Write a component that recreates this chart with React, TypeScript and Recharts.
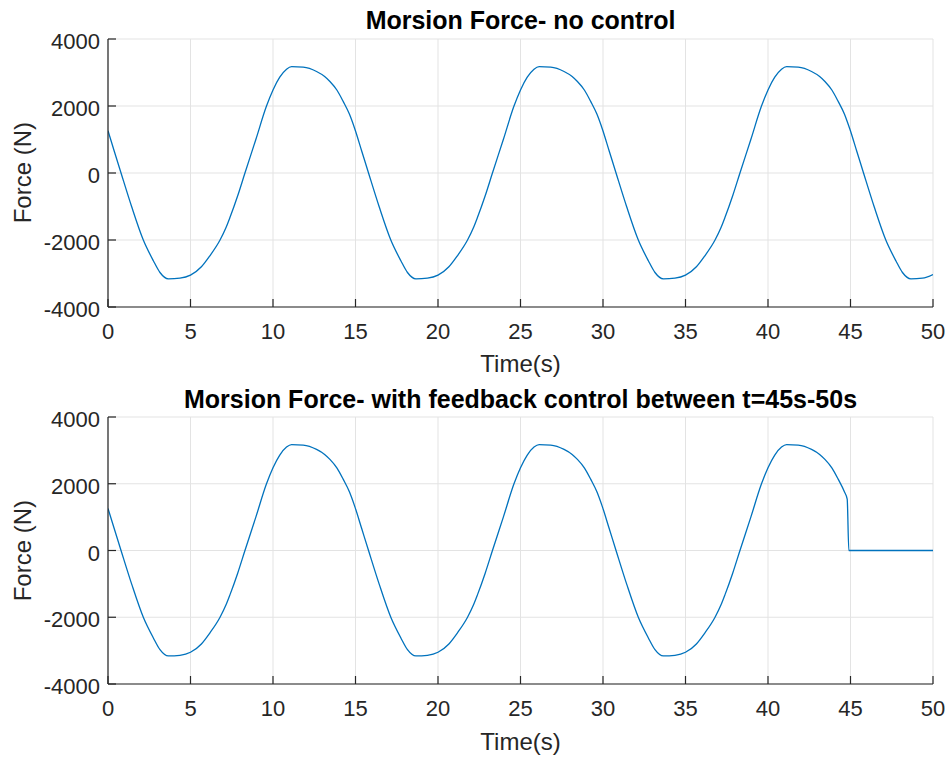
import React from 'react';
import { LineChart, Line, XAxis, YAxis, CartesianGrid } from 'recharts';

// ---- data ----
const timeTop = [
  0, 0.38, 0.79, 1.43, 2.14, 2.75, 3.15, 3.66,
  4.36, 5.0, 5.66, 6.16, 6.79, 7.16, 7.39, 7.86, 8.3, 8.96, 9.6, 10.0, 10.41, 10.82, 11.13,
  11.83, 12.64, 13.13, 13.45, 13.88, 14.26, 14.63, 14.97, 15.38, 15.79, 16.43, 17.14, 17.75, 18.15, 18.66,
  19.36, 20.0, 20.66, 21.16, 21.79, 22.16, 22.39, 22.86, 23.3, 23.96, 24.6, 25.0, 25.41, 25.82, 26.13,
  26.83, 27.64, 28.13, 28.45, 28.88, 29.26, 29.63, 29.97, 30.38, 30.79, 31.43, 32.14, 32.75, 33.15, 33.66,
  34.36, 35.0, 35.66, 36.16, 36.79, 37.16, 37.39, 37.86, 38.3, 38.96, 39.6, 40.0, 40.41, 40.82, 41.13,
  41.83, 42.64, 43.13, 43.45, 43.88, 44.26, 44.63, 44.8, 44.97, 45.38, 45.79, 46.43, 47.14, 47.75, 48.15, 48.66,
  49.36, 50.0,
];
const forceTop = [
  1260, 650, 0, -1000, -2000, -2620, -2970, -3160,
  -3140, -3050, -2800, -2480, -2000, -1620, -1330, -680, 0, 1000, 1990, 2480, 2860, 3100, 3175,
  3160, 3030, 2880, 2730, 2470, 2130, 1760, 1300, 650, 0, -1000, -2000, -2620, -2970, -3160,
  -3140, -3050, -2800, -2480, -2000, -1620, -1330, -680, 0, 1000, 1990, 2480, 2860, 3100, 3175,
  3160, 3030, 2880, 2730, 2470, 2130, 1760, 1300, 650, 0, -1000, -2000, -2620, -2970, -3160,
  -3140, -3050, -2800, -2480, -2000, -1620, -1330, -680, 0, 1000, 1990, 2480, 2860, 3100, 3175,
  3160, 3030, 2880, 2730, 2470, 2130, 1760, 1540, 1300, 650, 0, -1000, -2000, -2620, -2970, -3160,
  -3140, -3030,
];
const timeBottom = [
  0, 0.38, 0.79, 1.43, 2.14, 2.75, 3.15, 3.66,
  4.36, 5.0, 5.66, 6.16, 6.79, 7.16, 7.39, 7.86, 8.3, 8.96, 9.6, 10.0, 10.41, 10.82, 11.13,
  11.83, 12.64, 13.13, 13.45, 13.88, 14.26, 14.63, 14.97, 15.38, 15.79, 16.43, 17.14, 17.75, 18.15, 18.66,
  19.36, 20.0, 20.66, 21.16, 21.79, 22.16, 22.39, 22.86, 23.3, 23.96, 24.6, 25.0, 25.41, 25.82, 26.13,
  26.83, 27.64, 28.13, 28.45, 28.88, 29.26, 29.63, 29.97, 30.38, 30.79, 31.43, 32.14, 32.75, 33.15, 33.66,
  34.36, 35.0, 35.66, 36.16, 36.79, 37.16, 37.39, 37.86, 38.3, 38.96, 39.6, 40.0, 40.41, 40.82, 41.13,
  41.83, 42.64, 43.13, 43.45, 43.88, 44.26, 44.63, 44.8, 44.9, 50.0,
];
const forceBottom = [
  1260, 650, 0, -1000, -2000, -2620, -2970, -3160,
  -3140, -3050, -2800, -2480, -2000, -1620, -1330, -680, 0, 1000, 1990, 2480, 2860, 3100, 3175,
  3160, 3030, 2880, 2730, 2470, 2130, 1760, 1300, 650, 0, -1000, -2000, -2620, -2970, -3160,
  -3140, -3050, -2800, -2480, -2000, -1620, -1330, -680, 0, 1000, 1990, 2480, 2860, 3100, 3175,
  3160, 3030, 2880, 2730, 2470, 2130, 1760, 1300, 650, 0, -1000, -2000, -2620, -2970, -3160,
  -3140, -3050, -2800, -2480, -2000, -1620, -1330, -680, 0, 1000, 1990, 2480, 2860, 3100, 3175,
  3160, 3030, 2880, 2730, 2470, 2130, 1760, 1540, 0, 0,
];
const xTicks = [0, 5, 10, 15, 20, 25, 30, 35, 40, 45, 50];
const yTicks = [-4000, -2000, 0, 2000, 4000];
const titles = [
  'Morsion Force- no control',
  'Morsion Force- with feedback control between t=45s-50s',
];
const xLabel = 'Time(s)';
const yLabel = 'Force (N)';

// ---- styles ----
const FONT = '"Liberation Sans", Arial, Helvetica, sans-serif';
const AXIS = '#262626';
const GRID = '#e3e3e3';
const LINE = '#0072BD';
const TICK_FS = 22;
const TICK_LEN = 8;

const toRows = (t: number[], f: number[]) => t.map((v, i) => ({ t: v, f: f[i] }));

const BottomTick = (p: any) => (
  <g>
    <line x1={p.x} x2={p.x} y1={p.y} y2={p.y - TICK_LEN} stroke={AXIS} strokeWidth={1.2} />
    <text x={p.x} y={p.y + 32} textAnchor="middle" fontSize={TICK_FS} fontFamily={FONT} fill={AXIS}>
      {p.payload.value}
    </text>
  </g>
);
const TopTick = (p: any) => (
  <line x1={p.x} x2={p.x} y1={p.y} y2={p.y + TICK_LEN} stroke={AXIS} strokeWidth={1.2} />
);
const LeftTick = (p: any) => (
  <g>
    <line x1={p.x} x2={p.x + TICK_LEN} y1={p.y} y2={p.y} stroke={AXIS} strokeWidth={1.2} />
    <text x={p.x - 8} y={p.y + 10} textAnchor="end" fontSize={TICK_FS} fontFamily={FONT} fill={AXIS}>
      {p.payload.value}
    </text>
  </g>
);
const RightTick = (p: any) => (
  <line x1={p.x} x2={p.x - TICK_LEN} y1={p.y} y2={p.y} stroke={AXIS} strokeWidth={1.2} />
);

function Panel(props: { rows: any[]; marginTop: number; xAxisH: number }) {
  const { rows, marginTop, xAxisH } = props;
  return (
    <LineChart width={948} height={379} data={rows}
      margin={{ top: marginTop, right: 15, bottom: 0, left: 0 }}>
      <CartesianGrid stroke={GRID} strokeWidth={1} />
      <XAxis dataKey="t" type="number" domain={[0, 50]} ticks={xTicks} interval={0}
        height={xAxisH} tickSize={0} tickMargin={0} tickLine={false}
        axisLine={{ stroke: AXIS, strokeWidth: 1.2 }} tick={<BottomTick />} allowDataOverflow />
      <XAxis xAxisId="top" orientation="top" dataKey="t" type="number" domain={[0, 50]}
        ticks={xTicks} interval={0} height={0} tickSize={0} tickMargin={0} tickLine={false}
        axisLine={{ stroke: AXIS, strokeWidth: 1.2 }} tick={<TopTick />} allowDataOverflow />
      <YAxis type="number" domain={[-4000, 4000]} ticks={yTicks} interval={0} width={108}
        tickSize={0} tickMargin={0} tickLine={false}
        axisLine={{ stroke: AXIS, strokeWidth: 1.2 }} tick={<LeftTick />} allowDataOverflow />
      <YAxis yAxisId="right" orientation="right" type="number" domain={[-4000, 4000]}
        ticks={yTicks} interval={0} width={0} tickSize={0} tickMargin={0} tickLine={false}
        axisLine={{ stroke: AXIS, strokeWidth: 1.2 }} tick={<RightTick />} allowDataOverflow />
      <Line dataKey="f" type="monotone" stroke={LINE} strokeWidth={1.3} dot={false}
        activeDot={false} isAnimationActive={false} />
    </LineChart>
  );
}

export default function App() {
  const cx = 520.5;
  return (
    <div style={{ position: 'absolute', left: 0, top: 0, width: 948, height: 758, background: '#fff' }}>
      <div style={{ position: 'absolute', left: 0, top: 0 }}>
        <Panel rows={toRows(timeTop, forceTop)} marginTop={39} xAxisH={72} />
      </div>
      <div style={{ position: 'absolute', left: 0, top: 379 }}>
        <Panel rows={toRows(timeBottom, forceBottom)} marginTop={38} xAxisH={74} />
      </div>
      <svg width={948} height={758} style={{ position: 'absolute', left: 0, top: 0, pointerEvents: 'none' }}>
        <text x={cx} y={29} textAnchor="middle" fontSize={25} fontWeight="bold" fontFamily={FONT} fill="#000">{titles[0]}</text>
        <text x={cx} y={407.5} textAnchor="middle" fontSize={25} fontWeight="bold" fontFamily={FONT} fill="#000">{titles[1]}</text>
        <text x={cx} y={371.5} textAnchor="middle" fontSize={24} fontFamily={FONT} fill={AXIS}>{xLabel}</text>
        <text x={cx} y={750} textAnchor="middle" fontSize={24} fontFamily={FONT} fill={AXIS}>{xLabel}</text>
        <text x={31} y={172.7} transform="rotate(-90 31 172.7)" textAnchor="middle" fontSize={24} fontFamily={FONT} fill={AXIS}>{yLabel}</text>
        <text x={31} y={550.7} transform="rotate(-90 31 550.7)" textAnchor="middle" fontSize={24} fontFamily={FONT} fill={AXIS}>{yLabel}</text>
      </svg>
    </div>
  );
}
